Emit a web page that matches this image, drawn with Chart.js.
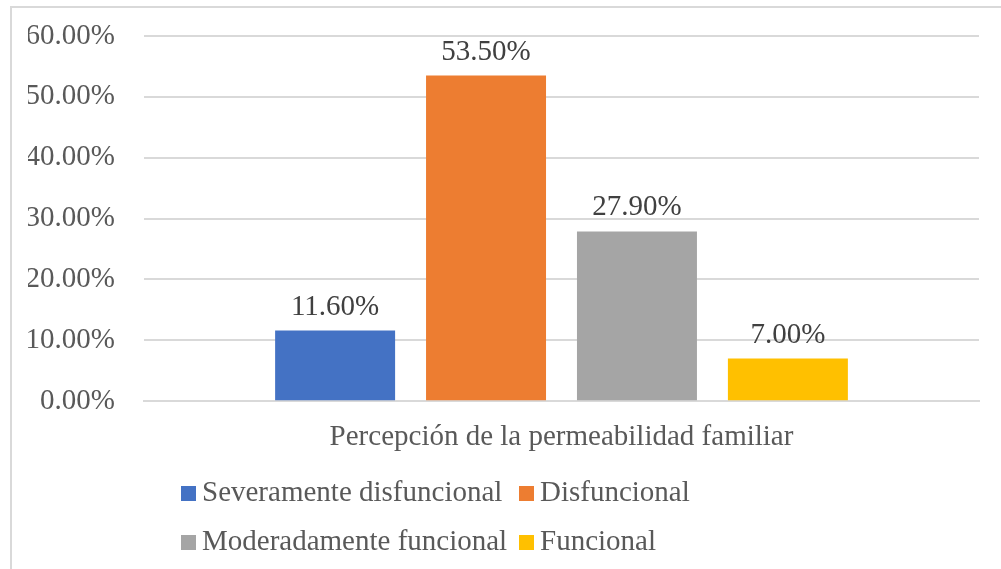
<!DOCTYPE html>
<html>
<head>
<meta charset="utf-8">
<script src="https://cdn.jsdelivr.net/npm/chart.js@4.4.1/dist/chart.umd.min.js"></script>
<style>
    body { margin: 0; overflow: hidden; background: #fff; }
    #wrap { position: relative; width: 1001px; height: 569px; }
    #frame { position: absolute; left: 10px; top: 6px; width: 1000px; height: 600px; border-left: 2px solid #d9d9d9; border-top: 2px solid #d9d9d9; }
    #legend { position: absolute; left: 181px; top: 472px; font-family: "Liberation Serif", serif; font-size: 29px; color: #595959; }
    #legend .row { position: relative; height: 49px; }
    #legend .item { position: absolute; top: 0; white-space: nowrap; line-height: 38px; }
    #legend .box { display: inline-block; width: 15px; height: 15px; margin-right: 6px; vertical-align: 0px; }
</style>
</head>
<body>
<div id="wrap">
    <div id="frame"></div>
    <canvas id="chart" width="1001" height="569"></canvas>
    <div id="legend"></div>
</div>
<script>
// data
const categories = ['Percepción de la permeabilidad familiar'];
const seriesNames = ['Severamente disfuncional', 'Disfuncional', 'Moderadamente funcional', 'Funcional'];
const seriesValues = [11.6, 53.5, 27.9, 7.0];
const seriesColors = ['#4472c4', '#ed7d31', '#a5a5a5', '#ffc000'];
const yTicks = [0, 10, 20, 30, 40, 50, 60];

const fontFamily = '"Liberation Serif", "Times New Roman", serif';

// value labels over the bars
const barLabels = {
    id: 'barLabels',
    afterDatasetsDraw: function(chart) {
        const ctx = chart.ctx;
        ctx.save();
        ctx.font = '29px ' + fontFamily;
        ctx.fillStyle = '#404040';
        ctx.textAlign = 'center';
        ctx.textBaseline = 'alphabetic';
        chart.data.datasets.forEach(function(ds, i) {
            const bar = chart.getDatasetMeta(i).data[0];
            ctx.fillText(ds.data[0].toFixed(2) + '%', bar.x, bar.y - 16);
        });
        ctx.restore();
    }
};

const datasets = seriesNames.map(function(name, i) {
    return {
        label: name,
        data: [seriesValues[i]],
        backgroundColor: seriesColors[i]
    };
});

new Chart(document.getElementById('chart'), {
    type: 'bar',
    data: { labels: categories, datasets: datasets },
    options: {
        responsive: false,
        animation: false,
        categoryPercentage: 0.723,
        barPercentage: 0.795,
        layout: { padding: { left: 28, right: 22, top: 36, bottom: 103 } },
        plugins: {
            legend: { display: false },
            tooltip: { enabled: false }
        },
        scales: {
            x: {
                grid: { display: false },
                border: { display: true, color: '#d9d9d9', width: 2 },
                ticks: { color: '#595959', font: { family: fontFamily, size: 29 }, padding: 11 }
            },
            y: {
                min: 0,
                max: 60,
                afterBuildTicks: function(axis) {
                    axis.ticks = yTicks.map(function(v) { return { value: v }; });
                },
                afterFit: function(axis) {
                    axis.width = 116;
                    axis.paddingTop = 0;
                    axis.paddingBottom = 0;
                },
                grid: { color: '#d9d9d9', lineWidth: 2, drawTicks: false },
                border: { display: false },
                ticks: {
                    color: '#595959',
                    font: { family: fontFamily, size: 29 },
                    padding: 29,
                    callback: function(v) { return v.toFixed(2) + '%'; }
                }
            }
        }
    },
    plugins: [barLabels]
});

// legend laid out in two columns like the original
const legendCols = [0, 338];
const legend = document.getElementById('legend');
for (let r = 0; r < 2; r++) {
    const row = document.createElement('div');
    row.className = 'row';
    for (let c = 0; c < 2; c++) {
        const i = r * 2 + c;
        const item = document.createElement('div');
        item.className = 'item';
        item.style.left = legendCols[c] + 'px';
        item.innerHTML = '<span class="box" style="background:' + seriesColors[i] + '"></span>' + seriesNames[i];
        row.appendChild(item);
    }
    legend.appendChild(row);
}
</script>
</body>
</html>
